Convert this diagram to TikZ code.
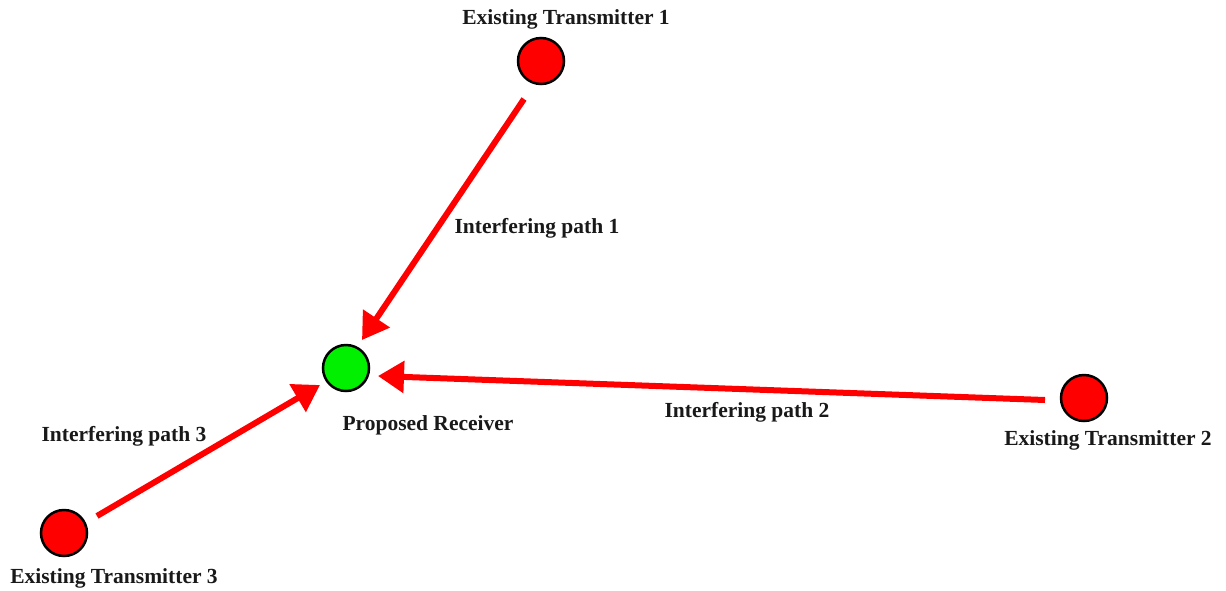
\documentclass[tikz,border=0pt]{standalone}
\usepackage{fontspec}
\setmainfont{Liberation Serif}
\usetikzlibrary{arrows.meta}
\definecolor{rxgreen}{RGB}{0,240,0}
\tikzset{
  tx/.style={circle,draw=black,line width=2.5pt,fill=red,minimum size=46pt,inner sep=0pt},
  rx/.style={circle,draw=black,line width=2.5pt,fill=rxgreen,minimum size=46pt,inner sep=0pt},
  lbl/.style={font=\fontsize{21.5}{25}\selectfont\bfseries,inner sep=0pt,text=black!90},
  path/.style={draw=red,line width=6pt,-{Triangle[length=26pt,width=31pt]}},
}
\begin{document}
\begin{tikzpicture}[x=1pt,y=-1pt]
\useasboundingbox (0,0) rectangle (1226,590);
\node[tx] (tx1) at (541,61) {};
\node[tx] (tx2) at (1084,398) {};
\node[tx] (tx3) at (64,533) {};
\node[rx] (rx) at (346,368) {};
\node[lbl] (l1) at (566,19) {Existing Transmitter 1};
\node[lbl] (l2) at (1108,440) {Existing Transmitter 2};
\node[lbl] (l3) at (114,578) {Existing Transmitter 3};
\node[lbl] (lr) at (428,425) {Proposed Receiver};
\node[lbl] (i1) at (537,228) {Interfering path 1};
\node[lbl] (i2) at (747,412) {Interfering path 2};
\node[lbl] (i3) at (124,436) {Interfering path 3};
\coordinate (s1) at (524,99);
\coordinate (s2) at (1045,400);
\coordinate (s3) at (97,516);
\coordinate (e1) at (362,340);
\coordinate (e2) at (378,376);
\coordinate (e3) at (320,385);
\draw[path] (s1) -- (e1);
\draw[path] (s2) -- (e2);
\draw[path] (s3) -- (e3);
\end{tikzpicture}
\end{document}
